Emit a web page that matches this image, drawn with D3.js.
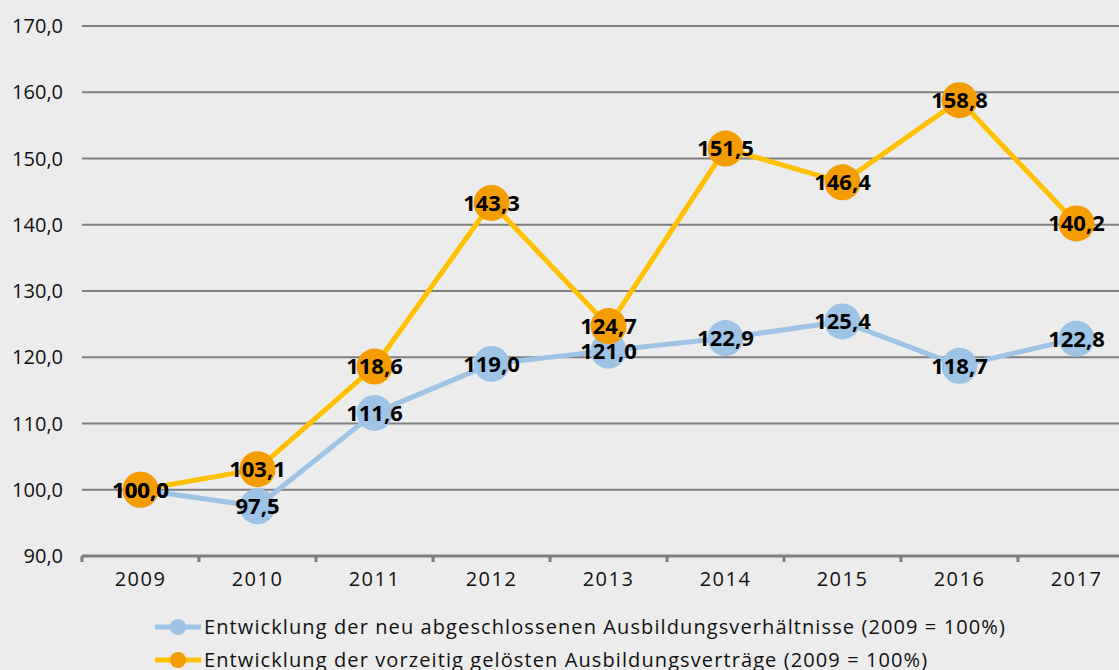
<!DOCTYPE html>
<html><head><meta charset="utf-8">
<script src="https://cdn.jsdelivr.net/npm/d3@7"></script>
<style>body{margin:0;background:#ececec}svg{display:block}</style>
</head><body>
<svg id="c" width="1119" height="670"></svg>
<script>
const years = ["2009","2010","2011","2012","2013","2014","2015","2016","2017"];
const neuValues = [100.0, 97.5, 111.6, 119.0, 121.0, 122.9, 125.4, 118.7, 122.8];
const geloestValues = [100.0, 103.1, 118.6, 143.3, 124.7, 151.5, 146.4, 158.8, 140.2];
const yTicks = [90,100,110,120,130,140,150,160,170];
const seriesNames = ["Entwicklung der neu abgeschlossenen Ausbildungsverhältnisse (2009 = 100%)",
                     "Entwicklung der vorzeitig gelösten Ausbildungsverträge (2009 = 100%)"];

const font = "'Open Sans', 'Noto Sans', sans-serif";
const fmt = v => v.toFixed(1).replace(".", ",");
const svg = d3.select("#c");
svg.append("rect").attr("width",1119).attr("height",670).attr("fill","#ececec");

const x = d3.scaleBand().domain(years).range([82, 1135]).paddingInner(0).paddingOuter(0);
const y = d3.scaleLinear().domain([90,170]).range([556, 26]);

// grid
svg.append("g").selectAll("line").data(yTicks.filter(t=>t>90)).join("line")
  .attr("x1",82).attr("x2",1119).attr("y1",d=>y(d)).attr("y2",d=>y(d))
  .attr("stroke","#7f7f7f").attr("stroke-width",2);

// y axis labels
svg.append("g").selectAll("text").data(yTicks).join("text")
  .attr("x",63).attr("y",d=>y(d)).attr("dy","0.35em").attr("text-anchor","end")
  .attr("font-family",font).attr("font-size",20).attr("fill","#111")
  .text(d=>fmt(d));

// x axis
const xa = svg.append("g").attr("transform",`translate(0,${y(90)})`)
  .call(d3.axisBottom(x).tickSize(0).tickPadding(16));
xa.select(".domain").remove();
xa.selectAll("text").attr("font-family",font).attr("font-size",20).attr("letter-spacing","1.5px").attr("fill","#111");
svg.append("line").attr("x1",82).attr("x2",1119).attr("y1",y(90)).attr("y2",y(90))
  .attr("stroke","#7f7f7f").attr("stroke-width",3);
svg.append("g").selectAll("line").data(years).join("line")
  .attr("x1",d=>x(d)).attr("x2",d=>x(d)).attr("y1",y(90)).attr("y2",y(90)+6)
  .attr("stroke","#7f7f7f").attr("stroke-width",3);

const series = [
  {vals: neuValues, line:"#9dc3e6", dot:"#9dc3e6"},
  {vals: geloestValues, line:"#ffc000", dot:"#f59c00"}
];
const cx = d => x(d) + x.bandwidth()/2;
const lineGen = d3.line().x((d,i)=>cx(years[i])).y(d=>y(d));
series.forEach(s=>{
  svg.append("path").datum(s.vals).attr("d",lineGen).attr("fill","none")
    .attr("stroke",s.line).attr("stroke-width",5).attr("stroke-linejoin","round");
  svg.append("g").selectAll("circle").data(s.vals).join("circle")
    .attr("cx",(d,i)=>cx(years[i])).attr("cy",d=>y(d)).attr("r",18).attr("fill",s.dot);
});
series.forEach(s=>{
  svg.append("g").selectAll("text").data(s.vals).join("text")
    .attr("x",(d,i)=>cx(years[i])).attr("y",d=>y(d)).attr("dy","0.36em")
    .attr("text-anchor","middle").attr("font-family",font).attr("font-weight","bold")
    .attr("font-size",22).attr("fill","#000").text(d=>fmt(d));
});

// legend
const leg = svg.append("g");
series.forEach((s,i)=>{
  const ly = 627 + i*33;
  leg.append("line").attr("x1",155).attr("x2",201).attr("y1",ly).attr("y2",ly)
    .attr("stroke",s.line).attr("stroke-width",5);
  leg.append("circle").attr("cx",178).attr("cy",ly).attr("r",8).attr("fill",s.dot);
  leg.append("text").attr("x",204).attr("y",ly).attr("dy","0.36em")
    .attr("font-family",font).attr("font-size",20).attr("letter-spacing","1.1px")
    .attr("fill","#111").text(seriesNames[i]);
});
</script>
</body></html>
